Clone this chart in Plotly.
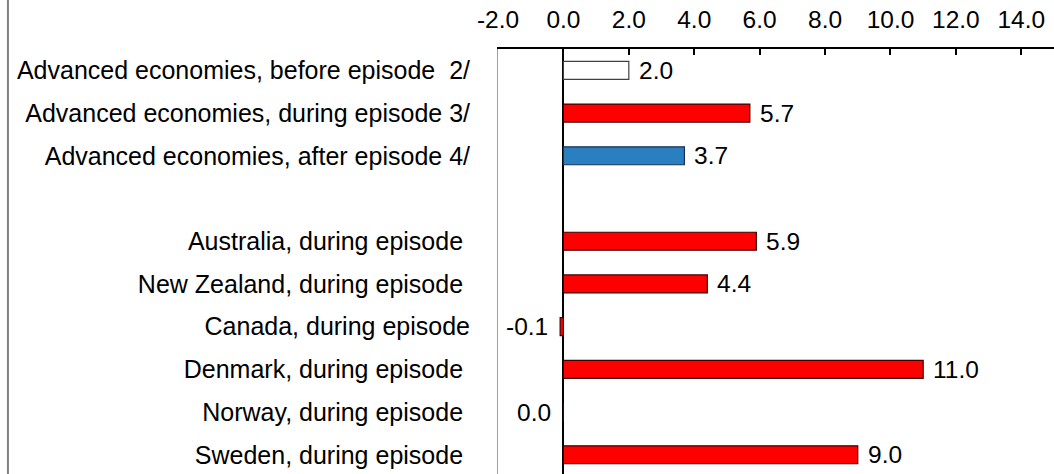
import plotly.graph_objects as go

# Categories from top to bottom; an empty slot separates the aggregate rows from the countries
categories = [
    "Advanced economies, before episode  2/",
    "Advanced economies, during episode 3/",
    "Advanced economies, after episode 4/",
    "",
    "Australia, during episode ",
    "New Zealand, during episode ",
    "Canada, during episode",
    "Denmark, during episode ",
    "Norway, during episode ",
    "Sweden, during episode ",
]
row_index = [0, 1, 2, 4, 5, 6, 7, 8, 9]
values = [2.0, 5.7, 3.7, 5.9, 4.4, -0.1, 11.0, 0.0, 9.0]
bar_colors = ["#FFFFFF", "#FF0000", "#2A7FC0",
              "#FF0000", "#FF0000", "#FF0000", "#FF0000", "#FF0000", "#FF0000"]
edge_colors = ["#404040", "#400000", "#1A3050",
               "#400000", "#400000", "#400000", "#400000", "#400000", "#400000"]

x_ticks = [-2, 0, 2, 4, 6, 8, 10, 12, 14]
x_tick_text = ["-2.0", "0.0", "2.0", "4.0", "6.0", "8.0", "10.0", "12.0", "14.0"]

FONT = "Liberation Sans, Arial, sans-serif"
LABEL_SIZE = 25
NUM_SIZE = 24.5
W, H = 1054, 474
ML, MT = 497.5, 49

fig = go.Figure()
fig.add_trace(go.Bar(
    x=values,
    y=row_index,
    orientation="h",
    width=0.42,
    marker=dict(color=bar_colors, line=dict(color=edge_colors, width=1.2)),
    hoverinfo="skip",
))

# Value labels beside each bar
for v, r in zip(values, row_index):
    fig.add_annotation(
        x=v, y=r, xref="x", yref="y",
        text=f"{v:.1f}",
        showarrow=False,
        xanchor="left" if v > 0 else "right",
        xshift=8 if v > 0 else -10,
        font=dict(family=FONT, size=NUM_SIZE, color="black"),
    )

# Outer frame line on the left side of the chart
plot_w = W - ML
plot_h = H - MT
fig.add_shape(
    type="line", xref="paper", yref="paper",
    x0=(7 - ML) / plot_w, x1=(7 - ML) / plot_w,
    y0=0, y1=H / plot_h,
    line=dict(color="#808080", width=2),
)

fig.update_layout(
    width=W, height=H,
    margin=dict(l=ML, r=0, t=MT, b=0, pad=0),
    paper_bgcolor="white",
    plot_bgcolor="white",
    showlegend=False,
    font=dict(family=FONT, size=LABEL_SIZE, color="black"),
    xaxis=dict(
        side="top",
        range=[-2, 15],
        tickvals=x_ticks,
        ticktext=x_tick_text,
        ticks="inside",
        ticklen=6,
        tickwidth=2,
        tickcolor="black",
        showline=True,
        linecolor="black",
        linewidth=2,
        showgrid=False,
        zeroline=True,
        zerolinecolor="black",
        zerolinewidth=2,
        tickfont=dict(family=FONT, size=NUM_SIZE, color="black"),
        ticklabelstandoff=9,
    ),
    yaxis=dict(
        range=[9.45, -0.5],
        tickvals=list(range(len(categories))),
        ticktext=categories,
        ticks="",
        showline=True,
        linecolor="#A0A0A0",
        linewidth=1,
        showgrid=False,
        zeroline=False,
        tickfont=dict(family=FONT, size=LABEL_SIZE, color="black"),
        ticklabelstandoff=22,
    ),
)

fig.write_html("out.html")
